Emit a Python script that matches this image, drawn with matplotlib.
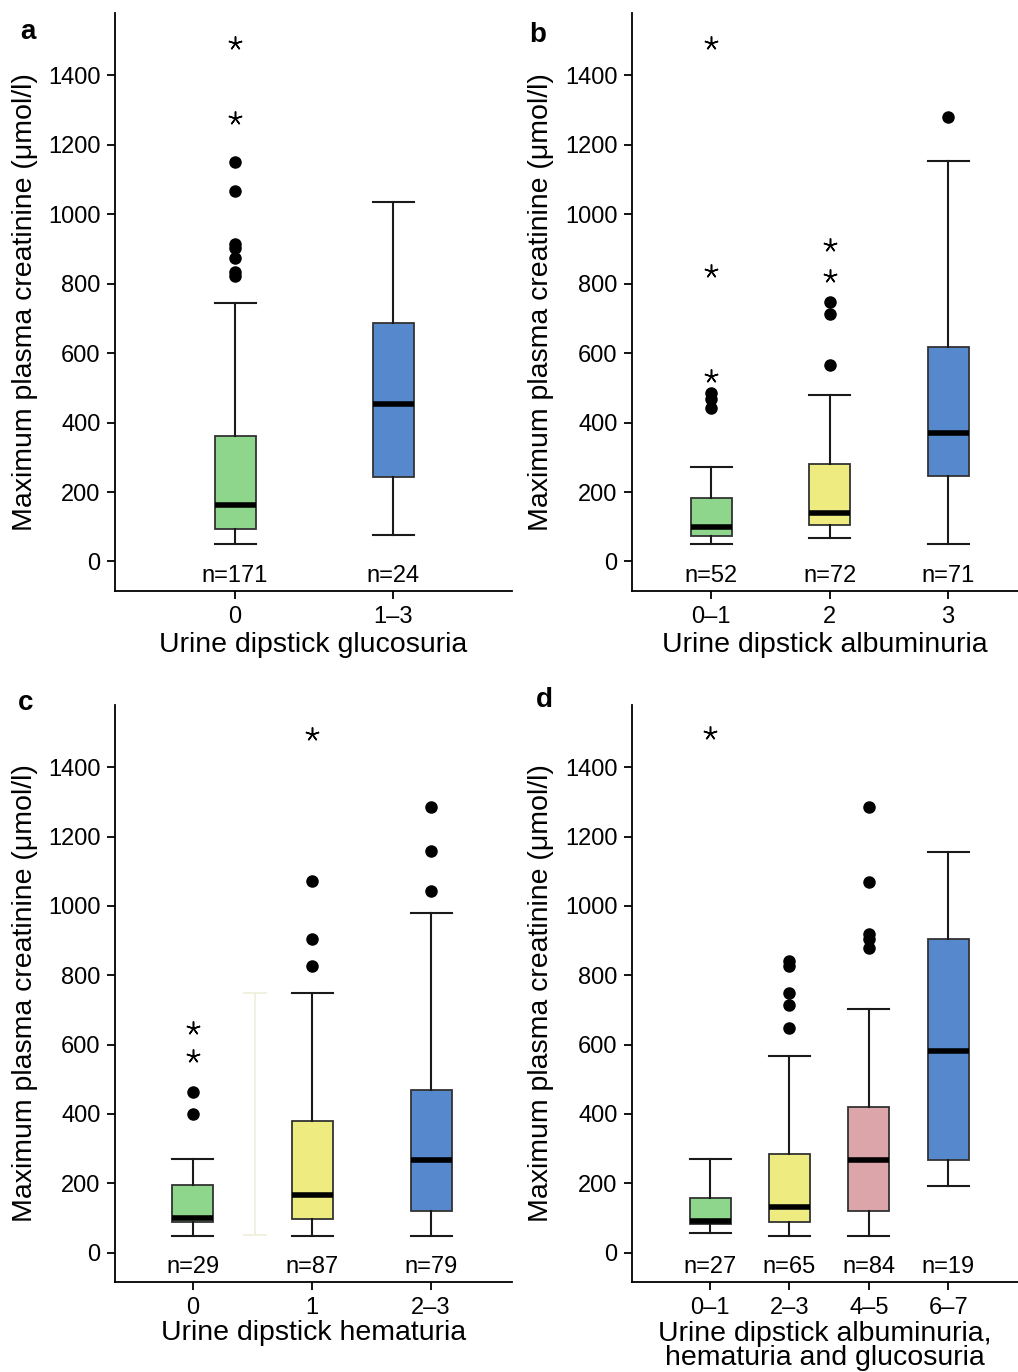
import numpy as np
import matplotlib.pyplot as plt

plt.rcParams['font.family'] = ['Liberation Sans', 'DejaVu Sans']

# colours of the boxes
GREEN = '#8ed68b'
YELLOW = '#eeec80'
BLUE = '#5588cc'
PINK = '#dca5aa'

# panel a: glucosuria
a_cats = ['0', '1\u20133']
a_n = [171, 24]
a_q1 = [95, 242]
a_med = [164, 455]
a_q3 = [362, 688]
a_lo = [49, 75]
a_hi = [745, 1036]
a_dots = [[1151, 1068, 915, 903, 875, 835, 823], []]
a_stars = [[1494, 1278], []]
a_colors = [GREEN, BLUE]

# panel b: albuminuria
b_cats = ['0\u20131', '2', '3']
b_n = [52, 72, 71]
b_q1 = [72, 104, 245]
b_med = [98, 141, 371]
b_q3 = [184, 282, 619]
b_lo = [49, 69, 49]
b_hi = [273, 481, 1154]
b_dots = [[486, 469, 443], [567, 714, 748], [1281]]
b_stars = [[535, 837, 1494], [823, 912], []]
b_colors = [GREEN, YELLOW, BLUE]

# panel c: hematuria
c_cats = ['0', '1', '2\u20133']
c_n = [29, 87, 79]
c_q1 = [87, 98, 121]
c_med = [101, 165, 266]
c_q3 = [196, 381, 468]
c_lo = [49, 49, 49]
c_hi = [271, 750, 981]
c_dots = [[462, 401], [828, 906, 1071], [1042, 1158, 1287]]
c_stars = [[647, 566], [1495], []]
c_colors = [GREEN, YELLOW, BLUE]
c_ghost = [52, 750]  # faint leftover whisker in the original

# panel d: combined score
d_cats = ['0\u20131', '2\u20133', '4\u20135', '6\u20137']
d_n = [27, 65, 84, 19]
d_q1 = [81, 89, 121, 268]
d_med = [92, 130, 268, 583]
d_q3 = [156, 283, 421, 906]
d_lo = [55, 49, 49, 193]
d_hi = [271, 566, 704, 1155]
d_dots = [[], [647, 713, 748, 826, 840], [878, 906, 918, 1068, 1285], []]
d_stars = [[1498], [], [], []]
d_colors = [GREEN, YELLOW, PINK, BLUE]

W, H = 1018, 1372
fig = plt.figure(figsize=(W / 100, H / 100), dpi=100)
FS = 17      # ticks and n= labels
LFS = 20.5   # axis labels


def px_axes(l, r, t, b):
    return fig.add_axes([l / W, (H - b) / H, (r - l) / W, (b - t) / H])


def panel(ax, cats, n, q1, med, q3, lo, hi, dots, stars, colors,
          xlim, unit, xlabel, lab_px, xlab_y):
    pos = np.arange(1, len(cats) + 1)
    stats = []
    for i in range(len(cats)):
        stats.append(dict(med=med[i], q1=q1[i], q3=q3[i],
                          whislo=lo[i], whishi=hi[i], fliers=dots[i]))
    wd = 41 / unit
    bp = ax.bxp(stats, positions=pos, widths=wd, capwidths=wd,
                patch_artist=True, manage_ticks=False,
                boxprops=dict(edgecolor='#333333', linewidth=1.3),
                whiskerprops=dict(color='#1a1a1a', linewidth=1.5),
                capprops=dict(color='#1a1a1a', linewidth=1.5),
                medianprops=dict(color='black', linewidth=4, solid_capstyle='butt'),
                flierprops=dict(marker='o', markerfacecolor='black',
                                markeredgecolor='black', markersize=8))
    for patch, c in zip(bp['boxes'], colors):
        patch.set_facecolor(c)
    for i, s in enumerate(stars):
        if s:
            ax.plot([pos[i]] * len(s), s, linestyle='none', marker=(5, 2, 0),
                    color='black', markersize=10, markeredgewidth=1.1)
    for i, v in enumerate(n):
        ax.text(pos[i], -43, f'n={v}', ha='center', va='center', fontsize=FS)
    ax.set_xlim(*xlim)
    ax.set_ylim(-85, 1580)
    ax.set_yticks(range(0, 1401, 200))
    ax.set_xticks(pos)
    ax.set_xticklabels(cats)
    for s in ['top', 'right']:
        ax.spines[s].set_visible(False)
    for s in ['left', 'bottom']:
        ax.spines[s].set_linewidth(1.3)
    ax.tick_params(direction='out', length=6, width=1.3, labelsize=FS, pad=4.5)
    ax.set_ylabel('Maximum plasma creatinine (\u03bcmol/l)', fontsize=LFS)
    ax.set_xlabel(xlabel, fontsize=LFS, linespacing=0.88)
    bb = ax.get_position()
    ax.yaxis.set_label_coords((lab_px / W - bb.x0) / bb.width, 0.5)
    ax.yaxis.label.set_va('center')
    ax.xaxis.set_label_coords(0.5, ((H - xlab_y) / H - bb.y0) / bb.height)
    ax.xaxis.label.set_va('center')
    return ax


ax_a = px_axes(115, 512, 13, 591)
panel(ax_a, a_cats, a_n, a_q1, a_med, a_q3, a_lo, a_hi, a_dots, a_stars, a_colors,
      (0.24, 2.753), 158, 'Urine dipstick glucosuria', 25, 645)

ax_b = px_axes(632, 1018, 13, 591)
panel(ax_b, b_cats, b_n, b_q1, b_med, b_q3, b_lo, b_hi, b_dots, b_stars, b_colors,
      (0.333, 3.59), 118.5, 'Urine dipstick albuminuria', 541, 645)

ax_c = px_axes(115, 512, 705, 1282)
panel(ax_c, c_cats, c_n, c_q1, c_med, c_q3, c_lo, c_hi, c_dots, c_stars, c_colors,
      (0.345, 3.68), 119, 'Urine dipstick hematuria', 25, 1333)
ghost_x = 1.52
ax_c.vlines(ghost_x, c_ghost[0], c_ghost[1], color='#f0eedc', linewidth=1.2, zorder=0)
ax_c.hlines(c_ghost, ghost_x - 0.1, ghost_x + 0.1, color='#f0eedc', linewidth=1.2, zorder=0)

ax_d = px_axes(632, 1018, 705, 1282)
panel(ax_d, d_cats, d_n, d_q1, d_med, d_q3, d_lo, d_hi, d_dots, d_stars, d_colors,
      (0.016, 4.88), 79.3, 'Urine dipstick albuminuria,\nhematuria and glucosuria',
      541, 1346)

for letter, x, y in [('a', 28, 32), ('b', 538, 35), ('c', 26, 703), ('d', 544, 700)]:
    fig.text(x / W, 1 - y / H, letter, fontsize=20, fontweight='bold',
             ha='center', va='center')

fig.savefig('out.png', dpi=100)
plt.close()
